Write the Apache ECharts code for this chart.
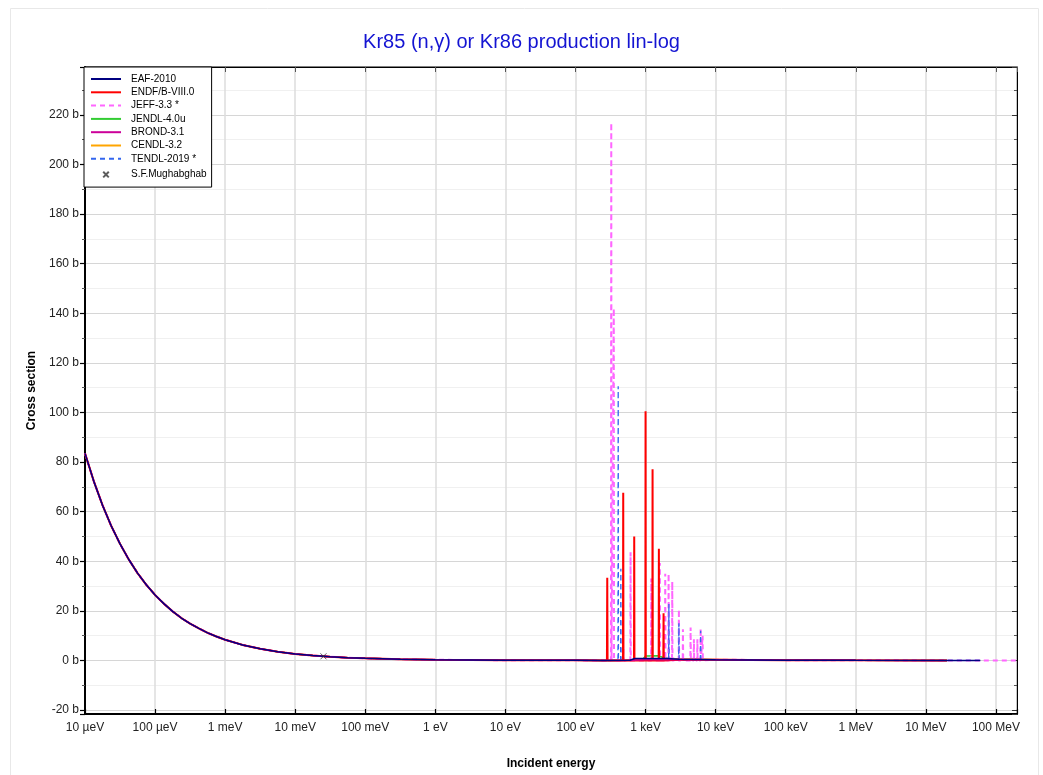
<!DOCTYPE html>
<html>
<head>
<meta charset="utf-8">
<script src="https://cdn.jsdelivr.net/npm/echarts@6/dist/echarts.min.js"></script>
<style>
html,body{margin:0;padding:0;background:#fff;}
#chart{width:1043px;height:775px;}
</style>
</head>
<body>
<div id="chart"></div>
<script>
// ---------- DATA (energy in eV, cross section in barn) ----------
const xTickLabels = ['10 µeV','100 µeV','1 meV','10 meV','100 meV','1 eV','10 eV','100 eV','1 keV','10 keV','100 keV','1 MeV','10 MeV','100 MeV'];
const legendNames = ['EAF-2010','ENDF/B-VIII.0','JEFF-3.3 *','JENDL-4.0u','BROND-3.1','CENDL-3.2','TENDL-2019 *','S.F.Mughabghab'];

// thermal / 1/v region, shared by all evaluations
const thermal = [
  [1e-5,83.5],[1.334e-5,72.3],[1.778e-5,62.6],[2.371e-5,54.2],[3.162e-5,47.0],[4.217e-5,40.7],
  [5.623e-5,35.2],[7.499e-5,30.5],[1e-4,26.4],[1.334e-4,22.9],[1.778e-4,19.8],[2.371e-4,17.1],
  [3.162e-4,14.85],[4.217e-4,12.9],[5.623e-4,11.13],[7.499e-4,9.64],[1e-3,8.35],[1.778e-3,6.26],
  [3.162e-3,4.70],[5.623e-3,3.52],[1e-2,2.64],[1.778e-2,1.98],[3.162e-2,1.48],[5.623e-2,1.11],
  [0.1,0.835],[0.316,0.47],[1,0.264],[10,0.084],[100,0.026],[250,0.017]
];

const eafRes = [[600,0.05],[700,0.8],[2000,0.8],[3000,0.45],[1e4,0.3],[1e5,0.12],[1e6,0.04],[2e7,0.005],[6e7,0.002]];

const endfRes = [
  [281,0.02],[284,33.3],[287,0.02],
  [476,0.02],[480,67.6],[484,0.02],
  [684,0.02],[689,50],[694,0.02],
  [993,0.02],[1000,100.5],[1007,0.02],
  [1250,0.02],[1259,77.1],[1268,0.02],
  [1538,0.02],[1549,45],[1560,0.02],
  [1794,0.02],[1807,19],[1820,0.02],
  [3000,0.3],[1e4,0.3],[1e5,0.12],[1e6,0.04],[2e7,0.005]
];

const jeffRes = [
  [321,0.02],[324,216.8],[327,0.02],
  [349,0.02],[352,142],[355,0.02],
  [476,0.02],[480,4.6],[484,0.02],
  [606,0.02],[611,43.6],[616,0.02],
  [1195,0.02],[1205,33],[1215,0.02],
  [1587,0.02],[1600,39.3],[1613,0.02],
  [1894,0.02],[1909,35],[1924,0.02],
  [2115,0.02],[2132,35],[2149,0.02],
  [2386,0.02],[2405,31.8],[2424,0.02],
  [2966,0.02],[2990,20.6],[3014,0.02],
  [3389,0.02],[3416,12.6],[3443,0.02],
  [4360,0.02],[4395,13.3],[4430,0.02],
  [4861,0.02],[4900,8.5],[4939,0.02],
  [5446,0.02],[5490,8.5],[5534,0.02],
  [6061,0.02],[6110,13],[6159,0.02],
  [6468,0.02],[6520,10],[6572,0.02],
  [1e4,0.3],[1e5,0.12],[1e6,0.04],[2e7,0.005],[2e8,0.001]
];

const jendlRes = [[500,0.05],[900,0.3],[1000,1.8],[1500,1.9],[1900,1.0],[3000,0.6],[1e4,0.3],[1e5,0.12],[1e6,0.04],[2e7,0.005]];
const brondRes = [[500,0.02],[1000,0.3],[3000,0.35],[1e4,0.3],[1e5,0.12],[1e6,0.04],[2e7,0.005]];
const cendlRes = [[500,0.02],[2000,0.5],[1e4,0.4],[1e5,0.12],[1e6,0.04],[2e7,0.005]];

const tendlRes = [
  [404,0.02],[407,110.6],[410,0.02],
  [441,0.02],[444,37],[447,0.02],
  [2136,0.02],[2153,22.8],[2170,0.02],
  [2966,0.02],[2990,15],[3014,0.02],
  [6061,0.02],[6110,12],[6159,0.02],
  [1e4,0.3],[1e5,0.12],[1e6,0.04],[2e7,0.005],[6e7,0.002]
];

const mughabghab = [[0.0253,1.66]];

// ---------- CHART ----------
const FONT = 'Liberation Sans, Arial, sans-serif';
const chart = echarts.init(document.getElementById('chart'), null, {renderer:'canvas'});

function lineSeries(name, data, color, width, dashed, z){
  return {
    name, type:'line', data, symbol:'none', showSymbol:false, z,
    xAxisIndex:0, yAxisIndex:0,
    lineStyle:{color, width, type: dashed ? [5,4] : 'solid'},
    itemStyle:{color},
    emphasis:{disabled:true}, animation:false
  };
}

const xMin = 1e-5, xMax = 2e8, yMin = -21.6, yMax = 239.3;

const legendData = legendNames.map(function(n){
  return n === 'S.F.Mughabghab'
    ? {name:n, icon:'path://M-4,-4M0,0L10,10M10,0L0,10M14,14'}
    : {name:n, itemStyle:{opacity:0}};
});

const option = {
  animation:false,
  backgroundColor:'#fff',
  title:{
    text:'Kr85 (n,γ) or Kr86 production lin-log',
    left:'center', top:27,
    textStyle:{color:'#1414d2', fontSize:20, fontWeight:'normal', fontFamily:FONT}
  },
  graphic:[{type:'rect', shape:{x:10.5,y:8.5,width:1028,height:780}, style:{fill:'none', stroke:'#e8e8e8', lineWidth:1}, silent:true, z:-10}],
  grid:{left:85, right:26, top:67, bottom:57, show:true, borderColor:'#000', borderWidth:1, backgroundColor:'transparent'},
  legend:{
    data:legendData,
    orient:'vertical', left:84, top:67,
    itemWidth:30, itemHeight:10, itemGap:3.3,
    padding:[7,5,5,6],
    backgroundColor:'#fff', borderColor:'#000', borderWidth:1,
    textStyle:{fontSize:10, color:'#000', fontFamily:FONT, padding:[0,0,0,5]},
    selectedMode:false
  },
  xAxis:[{
    type:'log', logBase:10, min:xMin, max:xMax, interval:1, splitNumber:14,
    name:'Incident energy', nameLocation:'middle', nameGap:44,
    nameTextStyle:{fontWeight:'bold', fontSize:12, color:'#000', fontFamily:FONT},
    axisLine:{show:true, onZero:false, lineStyle:{color:'#000', width:2}},
    axisTick:{show:true, inside:true, length:5, lineStyle:{color:'#000', width:1.2}},
    minorTick:{show:false},
    axisLabel:{fontSize:12, color:'#222', fontFamily:FONT, margin:8,
      formatter:function(v){ const l=Math.log10(v); const k=Math.round(l); if(Math.abs(l-k)>1e-6) return ''; return xTickLabels[k+5]||''; }},
    splitLine:{show:true, lineStyle:{color:'#dcdcdc', width:1.5}}
  },{
    type:'log', logBase:10, min:xMin, max:xMax, interval:1, splitNumber:14, position:'top',
    axisLine:{show:true, onZero:false, lineStyle:{color:'#000', width:1}},
    axisTick:{show:true, inside:true, length:5, lineStyle:{color:'#555'}},
    axisLabel:{show:false}, splitLine:{show:false}
  }],
  yAxis:[{
    type:'value', min:yMin, max:yMax, splitNumber:13,
    name:'Cross section', nameLocation:'middle', nameGap:46, nameRotate:90,
    nameTextStyle:{fontWeight:'bold', fontSize:12, color:'#000', fontFamily:FONT},
    axisLine:{show:true, onZero:false, lineStyle:{color:'#000', width:2}},
    axisTick:{show:true, length:5, lineStyle:{color:'#000', width:1.2}},
    minorTick:{show:true, splitNumber:2, length:3, lineStyle:{color:'#555'}},
    axisLabel:{fontSize:12, color:'#222', fontFamily:FONT, margin:6,
      formatter:function(v){ return Math.abs(v/20-Math.round(v/20))<1e-6 ? Math.round(v)+' b' : ''; }},
    splitLine:{show:true, lineStyle:{color:'#d6d6d6', width:1.2}},
    minorSplitLine:{show:true, lineStyle:{color:'#f0f0f0', width:1}}
  },{
    type:'value', min:yMin, max:yMax, splitNumber:13, position:'right',
    axisLine:{show:true, onZero:false, lineStyle:{color:'#000', width:1}},
    axisTick:{show:true, inside:true, length:5, lineStyle:{color:'#333'}},
    minorTick:{show:true, splitNumber:2, length:3, lineStyle:{color:'#555'}},
    axisLabel:{show:false}, splitLine:{show:false}
  }],
  series:[
    lineSeries('JENDL-4.0u', thermal.concat(jendlRes), '#33cc33', 1.5, false, 2),
    lineSeries('CENDL-3.2', thermal.concat(cendlRes), '#ffa500', 1.5, false, 3),
    lineSeries('JEFF-3.3 *', thermal.concat(jeffRes), '#ff66ff', 2, true, 4),
    lineSeries('TENDL-2019 *', thermal.concat(tendlRes), '#3366ee', 1.3, true, 5),
    lineSeries('ENDF/B-VIII.0', thermal.concat(endfRes), '#ff0000', 2, false, 6),
    lineSeries('BROND-3.1', thermal.concat(brondRes), '#cc0099', 1.5, false, 7),
    lineSeries('EAF-2010', thermal.concat(eafRes), '#000080', 1.5, false, 8),
    {
      name:'S.F.Mughabghab', type:'scatter', data:mughabghab, z:9,
      symbol:'path://M0,0L10,10M10,0L0,10', symbolSize:6,
      itemStyle:{color:'none', borderColor:'#333', borderWidth:1},
      emphasis:{disabled:true}
    }
  ]
};
chart.setOption(option);
</script>
</body>
</html>
